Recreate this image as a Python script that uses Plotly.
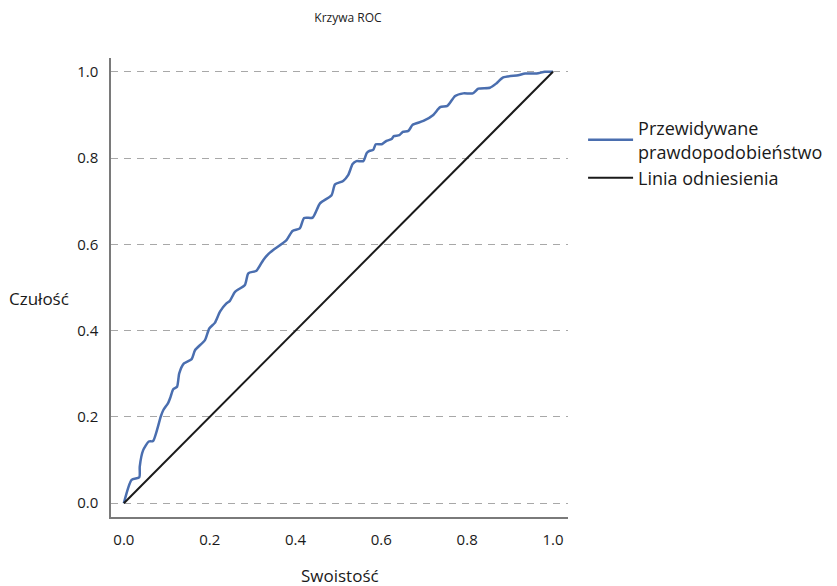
import plotly.graph_objects as go

# ROC curve points (1 - specificity, sensitivity)
fpr = [0.0, 0.018, 0.036, 0.037, 0.045, 0.058, 0.068, 0.086, 0.092, 0.103, 0.109, 0.115,
       0.124, 0.129, 0.140, 0.158, 0.166, 0.189, 0.199, 0.212, 0.224, 0.239, 0.247, 0.259,
       0.282, 0.290, 0.309, 0.325, 0.336, 0.348, 0.379, 0.393, 0.410, 0.420, 0.440, 0.457,
       0.484, 0.492, 0.511, 0.523, 0.533, 0.542, 0.558, 0.566, 0.573, 0.581, 0.587, 0.601,
       0.612, 0.624, 0.629, 0.642, 0.650, 0.663, 0.673, 0.698, 0.721, 0.737, 0.754, 0.772,
       0.791, 0.813, 0.826, 0.853, 0.868, 0.884, 0.919, 0.935, 0.962, 0.981, 1.0]
tpr = [0.0, 0.054, 0.060, 0.085, 0.123, 0.143, 0.144, 0.201, 0.216, 0.232, 0.247, 0.264,
       0.270, 0.301, 0.324, 0.334, 0.355, 0.378, 0.405, 0.418, 0.444, 0.463, 0.469, 0.490,
       0.506, 0.533, 0.539, 0.564, 0.577, 0.587, 0.610, 0.631, 0.637, 0.661, 0.662, 0.695,
       0.714, 0.739, 0.747, 0.761, 0.786, 0.793, 0.793, 0.812, 0.817, 0.819, 0.832, 0.832,
       0.840, 0.844, 0.851, 0.853, 0.861, 0.863, 0.877, 0.886, 0.900, 0.918, 0.921, 0.944,
       0.950, 0.950, 0.961, 0.963, 0.973, 0.987, 0.992, 0.996, 0.996, 1.0, 1.0]

ref_x = [0.0, 1.0]
ref_y = [0.0, 1.0]

tick_vals = [0.0, 0.2, 0.4, 0.6, 0.8, 1.0]
tick_text = ["0.0", "0.2", "0.4", "0.6", "0.8", "1.0"]

FONT = "Open Sans"

fig = go.Figure()
fig.add_trace(go.Scatter(
    x=fpr, y=tpr, mode="lines", name="Przewidywane<br>prawdopodobieństwo",
    line=dict(color="#4a6eaf", width=2.5, shape="spline", smoothing=0.6),
))
fig.add_trace(go.Scatter(
    x=ref_x, y=ref_y, mode="lines", name="Linia odniesienia",
    line=dict(color="#1a1a1a", width=2),
))

fig.update_layout(
    width=837, height=586,
    margin=dict(l=111, r=269, t=58, b=69, autoexpand=False),
    plot_bgcolor="white", paper_bgcolor="white",
    font=dict(family=FONT, color="#1a1a1a"),
    title=dict(text="Krzywa ROC", font=dict(size=12, color="#222"),
               x=0.5186, xref="paper", xanchor="center",
               y=1 - 18 / 586, yref="container", yanchor="middle"),
    legend=dict(x=1.033, xanchor="left", y=0.887, yanchor="top",
                font=dict(size=18, color="#1a1a1a"), itemwidth=45,
                bgcolor="rgba(0,0,0,0)", tracegroupgap=0),
    showlegend=True,
)
fig.update_xaxes(
    range=[-0.030, 1.035], showgrid=False, zeroline=False,
    showline=True, linecolor="#7a7a7a", linewidth=1.5,
    tickvals=tick_vals, ticktext=tick_text, ticks="",
    tickfont=dict(size=15, color="#1a1a1a"), ticklabelstandoff=8,
)
fig.update_yaxes(
    range=[-0.032, 1.032], showgrid=True, gridcolor="#a8a8a8", gridwidth=1.3,
    griddash="7px,6px", zeroline=False,
    showline=True, linecolor="#7a7a7a", linewidth=1.5,
    tickvals=tick_vals, ticktext=tick_text, ticks="",
    tickfont=dict(size=15, color="#1a1a1a"), ticklabelstandoff=8,
)
fig.add_annotation(text="Czułość", xref="paper", yref="paper",
                   x=-(111 - 7) / 457, y=(517 - 298) / 459, xanchor="left", yanchor="middle",
                   showarrow=False, font=dict(size=17, color="#1a1a1a"))
fig.add_annotation(text="Swoistość", xref="paper", yref="paper",
                   x=(340 - 111) / 457, y=-(575 - 517) / 459, xanchor="center", yanchor="middle",
                   showarrow=False, font=dict(size=17, color="#1a1a1a"))

fig.write_html("out.html", config={"displayModeBar": False},
               post_script="document.body.style.margin='0';document.body.style.overflow='hidden';")
